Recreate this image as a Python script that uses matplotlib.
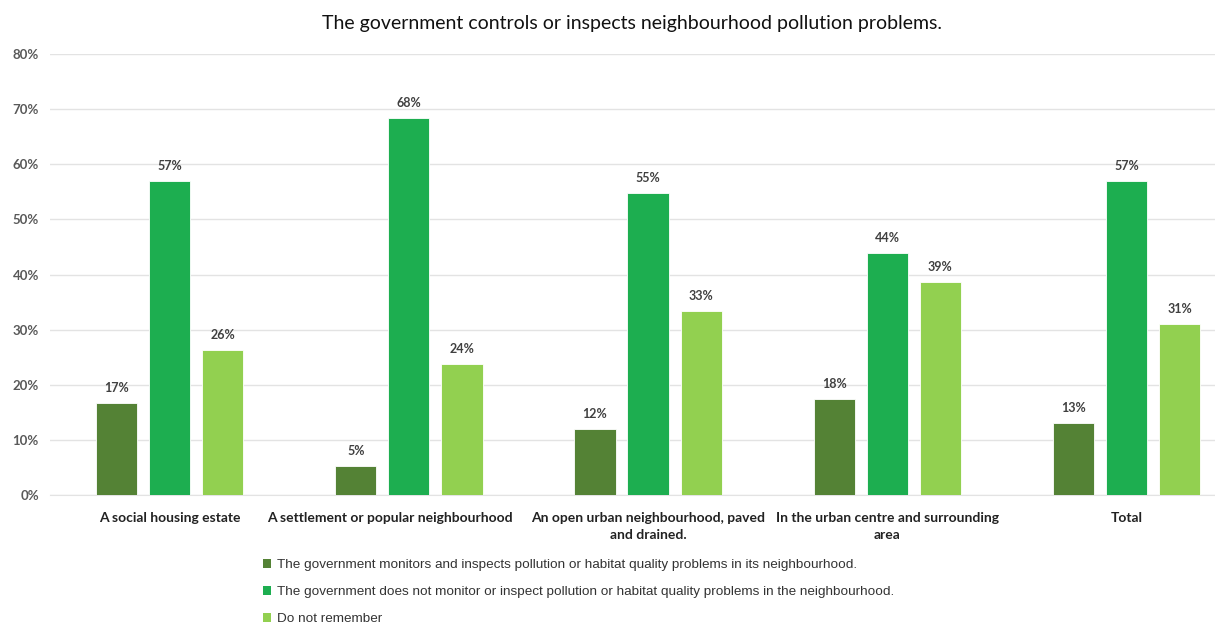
import math

import matplotlib
matplotlib.use("Agg")
import matplotlib.pyplot as plt
import matplotlib.patches as mpatches
import matplotlib.transforms as mtransforms
import numpy as np

CATEGORIES = [
    "A social housing estate",
    "A settlement or popular neighbourhood",
    "An open urban neighbourhood, paved\nand drained.",
    "In the urban centre and surrounding\narea",
    "Total",
]
SERIES_NAMES = [
    "The government monitors and inspects pollution or habitat quality problems in its neighbourhood.",
    "The government does not monitor or inspect pollution or habitat quality problems in the neighbourhood.",
    "Do not remember",
]
MONITORS = [16.7, 5.3, 12.0, 17.5, 13.1]
NOT_MONITOR = [57.0, 68.4, 54.8, 43.9, 57.0]
DONT_REMEMBER = [26.3, 23.8, 33.4, 38.6, 31.0]
Y_TICKS = [0, 10, 20, 30, 40, 50, 60, 70, 80]

COLORS = ["#548235", "#1DAE50", "#92D050"]
TITLE = "The government controls or inspects neighbourhood pollution problems."

plt.rcParams["font.family"] = ["Lato", "DejaVu Sans"]

fig = plt.figure(figsize=(12.15, 6.24), dpi=100)
ax = fig.add_axes([50 / 1215, 1 - 495 / 624, 1165 / 1215, 441 / 624])

x = np.arange(len(CATEGORIES))
bar_w = 0.172
step = 0.222
series = [MONITORS, NOT_MONITOR, DONT_REMEMBER]
for i, vals in enumerate(series):
    xs = x + (i - 1) * step
    ax.bar(xs, vals, width=bar_w, color=COLORS[i], edgecolor="white", linewidth=0.6, zorder=3)
    for xi, v in zip(xs, vals):
        ax.text(xi, v + 1.6, f"{math.floor(v + 0.5)}%", ha="center", va="bottom",
                fontsize=9, fontweight="bold", color="#404040")

ax.set_xlim(-0.5, 4.37)
ax.set_ylim(0, 80)
ax.set_yticks(Y_TICKS)
ax.set_yticklabels([f"{t}%" for t in Y_TICKS], fontsize=9.5, fontweight="bold", color="#595959")
ax.grid(True, axis="y", color="#e3e3e3", linewidth=1.0, zorder=0)
ax.set_xticks(x)
ax.set_xticklabels(CATEGORIES, fontsize=10, fontweight="bold", color="#222222", linespacing=1.5)
ax.tick_params(axis="both", length=0)
ax.tick_params(axis="x", pad=12)
ax.tick_params(axis="y", pad=8)
for side in ["top", "right", "left"]:
    ax.spines[side].set_visible(False)
ax.spines["bottom"].set_color("#e3e3e3")

# the long second label sits a little left of its group, as in the source
lbl = ax.get_xticklabels()[1]
lbl.set_transform(lbl.get_transform() + mtransforms.ScaledTranslation(-0.19, 0, fig.dpi_scale_trans))

fig.text(0.52, 1 - 24 / 624, TITLE, ha="center", va="center", fontsize=14, color="#111111")

handles = [mpatches.Patch(facecolor=c, edgecolor="none") for c in COLORS]
fig.legend(handles, SERIES_NAMES, loc="upper left", bbox_to_anchor=(251 / 1215, 1 - 547 / 624),
           frameon=False, handlelength=0.6, handleheight=0.6, handletextpad=0.4,
           labelspacing=1.12, prop={"family": ["Liberation Sans", "DejaVu Sans"], "size": 9.7},
           labelcolor="#333333")

fig.savefig("out.png", dpi=100, facecolor="white")
